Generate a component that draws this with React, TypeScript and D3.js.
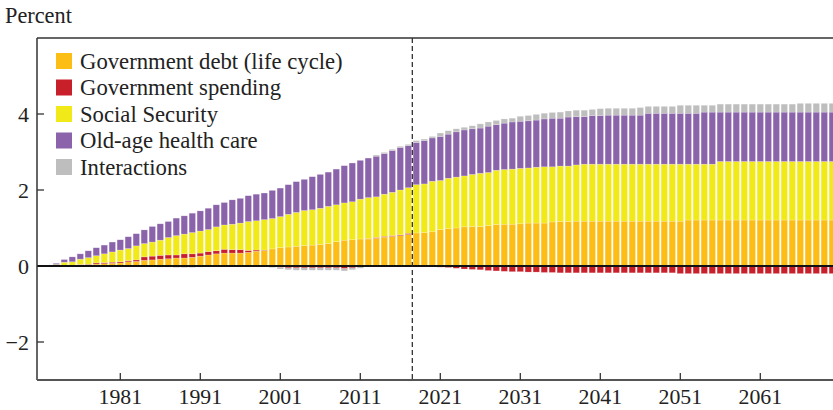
import React from "react";
import * as d3 from "d3";

// years shown as bars
const years = d3.range(1973, 2071);

// contributions (percentage points)
const govDebt = [
  0, 0, 0.01, 0.03, 0.04, 0.05, 0.06,
  0.07, 0.08, 0.11, 0.12, 0.15, 0.16, 0.18, 0.19, 0.21, 0.21,
  0.23, 0.26, 0.29, 0.32, 0.34, 0.34, 0.34, 0.36, 0.39, 0.41,
  0.45, 0.48, 0.5, 0.52, 0.54, 0.55, 0.57, 0.59, 0.64, 0.68,
  0.69, 0.71, 0.71, 0.73, 0.76, 0.78, 0.8, 0.83, 0.87, 0.88,
  0.9, 0.96, 0.98, 1.0, 1.03, 1.04, 1.04, 1.06, 1.09, 1.1,
  1.1, 1.11, 1.13, 1.13, 1.13, 1.16, 1.17, 1.17, 1.18, 1.18,
  1.18, 1.18, 1.18, 1.18, 1.18, 1.18, 1.18, 1.18, 1.18, 1.18,
  1.18, 1.18, 1.21, 1.21, 1.21, 1.21, 1.21, 1.21, 1.21, 1.21,
  1.21, 1.21, 1.21, 1.21, 1.21, 1.21, 1.21, 1.21, 1.21, 1.21,
  1.21,
];
const govSpending = [
  0, 0, 0, 0.01, 0.01, 0.03, 0.03,
  0.03, 0.03, 0.03, 0.04, 0.09, 0.1, 0.1, 0.1, 0.08, 0.11,
  0.09, 0.08, 0.09, 0.08, 0.1, 0.09, 0.09, 0.05, 0.03, 0.01,
  -0.02, -0.04, -0.05, -0.05, -0.05, -0.05, -0.05, -0.05, -0.05, -0.07,
  -0.05, -0.02, 0.01, 0.02, 0.02, 0.02, 0.02, 0.03, 0, -0.01,
  -0.02, -0.03, -0.04, -0.06, -0.08, -0.09, -0.1, -0.12, -0.13, -0.14,
  -0.15, -0.15, -0.16, -0.16, -0.17, -0.17, -0.18, -0.18, -0.18, -0.18,
  -0.18, -0.18, -0.18, -0.18, -0.18, -0.18, -0.18, -0.18, -0.18, -0.18,
  -0.18, -0.2, -0.2, -0.2, -0.2, -0.2, -0.2, -0.2, -0.2, -0.2,
  -0.2, -0.2, -0.2, -0.2, -0.2, -0.2, -0.2, -0.2, -0.2, -0.2,
  -0.2,
];
const socialSecurity = [
  0.04, 0.1, 0.1, 0.14, 0.17, 0.19, 0.23,
  0.27, 0.31, 0.32, 0.37, 0.35, 0.37, 0.4, 0.46, 0.51, 0.52,
  0.56, 0.58, 0.58, 0.63, 0.64, 0.67, 0.7, 0.76, 0.77, 0.8,
  0.8, 0.82, 0.86, 0.89, 0.92, 0.93, 0.95, 0.98, 0.97, 0.98,
  1.0, 1.05, 1.08, 1.07, 1.11, 1.14, 1.18, 1.2, 1.27, 1.28,
  1.33, 1.29, 1.33, 1.34, 1.34, 1.37, 1.4, 1.4, 1.43, 1.44,
  1.45, 1.46, 1.45, 1.47, 1.48, 1.45, 1.46, 1.46, 1.48, 1.5,
  1.5, 1.5, 1.5, 1.5, 1.5, 1.5, 1.5, 1.5, 1.5, 1.5,
  1.5, 1.5, 1.47, 1.47, 1.47, 1.47, 1.54, 1.54, 1.54, 1.54,
  1.54, 1.54, 1.54, 1.54, 1.54, 1.54, 1.54, 1.54, 1.54, 1.54,
  1.54,
];
const healthCare = [
  0.03, 0.07, 0.13, 0.14, 0.18, 0.21, 0.23,
  0.26, 0.27, 0.31, 0.32, 0.36, 0.41, 0.43, 0.42, 0.46, 0.48,
  0.51, 0.53, 0.56, 0.58, 0.59, 0.64, 0.65, 0.68, 0.7, 0.7,
  0.74, 0.75, 0.78, 0.81, 0.82, 0.87, 0.89, 0.9, 0.94, 0.98,
  1.02, 1.02, 1.04, 1.07, 1.07, 1.1, 1.12, 1.11, 1.11, 1.14,
  1.14, 1.16, 1.16, 1.19, 1.21, 1.2, 1.19, 1.22, 1.2, 1.22,
  1.24, 1.24, 1.24, 1.24, 1.26, 1.28, 1.26, 1.29, 1.27, 1.25,
  1.28, 1.28, 1.29, 1.29, 1.29, 1.29, 1.29, 1.34, 1.34, 1.34,
  1.34, 1.34, 1.34, 1.34, 1.37, 1.37, 1.3, 1.3, 1.3, 1.3,
  1.3, 1.3, 1.3, 1.3, 1.3, 1.3, 1.3, 1.3, 1.3, 1.3,
  1.3,
];
const interactions = [
  0, 0, 0, 0, 0, 0, 0,
  0, 0, 0, 0, 0, 0, -0.03, -0.03, -0.04, -0.04,
  -0.04, -0.03, -0.02, 0, 0, 0, 0, 0, 0, 0,
  -0.02, -0.04, -0.05, -0.06, -0.06, -0.06, -0.06, -0.06, -0.06, -0.06,
  -0.05, -0.04, -0.02, 0.03, 0.03, 0.03, 0.03, 0.03, 0.05, 0.04,
  0.04, 0.09, 0.09, 0.08, 0.07, 0.08, 0.11, 0.11, 0.11, 0.11,
  0.1, 0.13, 0.14, 0.15, 0.15, 0.15, 0.16, 0.16, 0.17, 0.17,
  0.16, 0.18, 0.18, 0.18, 0.18, 0.18, 0.2, 0.18, 0.18, 0.18,
  0.18, 0.21, 0.21, 0.21, 0.18, 0.18, 0.21, 0.21, 0.21, 0.21,
  0.21, 0.21, 0.21, 0.21, 0.21, 0.21, 0.23, 0.23, 0.23, 0.23,
  0.23,
];

const seriesKeys = ["debt", "spending", "ss", "health", "inter"];
const seriesLabels = [
  "Government debt (life cycle)",
  "Government spending",
  "Social Security",
  "Old-age health care",
  "Interactions",
];
const seriesColors = ["#FCBE14", "#C8202B", "#F2E919", "#8B63AB", "#BEBEBE"];

const xTicks = [1981, 1991, 2001, 2011, 2021, 2031, 2041, 2051, 2061];
const yTicks = [-2, 0, 2, 4];
const projectionStart = 2017.5;

const width = 833;
const height = 410;
const left = 37;
const top = 38;
const bottom = 380;
const font = "'Liberation Serif', 'Times New Roman', serif";

export default function App() {
  const rows = years.map((year, i) => ({
    year,
    debt: govDebt[i],
    spending: govSpending[i],
    ss: socialSecurity[i],
    health: healthCare[i],
    inter: interactions[i],
  }));

  const stacked = d3
    .stack<any>()
    .keys(seriesKeys)
    .offset(d3.stackOffsetDiverging)(rows);

  // 8px per year, 1981 at x=120
  const x = d3.scaleLinear().domain([1981, 2061]).range([120.3, 760.3]);
  const y = d3.scaleLinear().domain([-3, 6]).range([bottom, top]);
  const barW = 6.4;

  return (
    <svg
      width={width}
      height={height}
      style={{ position: "absolute", left: 0, top: 0, background: "white" }}
      fontFamily={font}
    >
      <defs>
        <clipPath id="plot">
          <rect x={left} y={top} width={width - left} height={bottom - top} />
        </clipPath>
      </defs>

      <text x={5} y={23} fontSize={22.3} fill="#222">
        Percent
      </text>

      <g clipPath="url(#plot)">
        {stacked.map((s, si) => (
          <g key={s.key} fill={seriesColors[si]}>
            {s.map((d, i) => {
              const y0 = y(d[0]);
              const y1 = y(d[1]);
              const h = Math.abs(y0 - y1);
              if (h < 0.05) return null;
              return (
                <rect
                  key={i}
                  x={x(years[i]) - barW / 2}
                  y={Math.min(y0, y1)}
                  width={barW}
                  height={h}
                  stroke="white"
                  strokeOpacity={0.4}
                  strokeWidth={0.5}
                />
              );
            })}
          </g>
        ))}
      </g>

      {/* zero line */}
      <line x1={left} x2={width} y1={y(0)} y2={y(0)} stroke="#111" strokeWidth={2} />

      {/* projection start */}
      <line
        x1={x(projectionStart)}
        x2={x(projectionStart)}
        y1={top}
        y2={bottom}
        stroke="#222"
        strokeWidth={1.2}
        strokeDasharray="5,3"
      />

      {/* frame */}
      <line x1={left} x2={width} y1={top} y2={top} stroke="#333" strokeWidth={1.5} />
      <line x1={left} x2={left} y1={top} y2={bottom} stroke="#333" strokeWidth={1.5} />
      <line x1={left} x2={width} y1={bottom} y2={bottom} stroke="#555" strokeWidth={1.8} />

      {/* y axis */}
      {yTicks.map((t) => (
        <g key={t}>
          {t !== 0 && (
            <line x1={left} x2={left + 7} y1={y(t)} y2={y(t)} stroke="#333" strokeWidth={1.3} />
          )}
          <text
            x={29}
            y={y(t) + 7.5}
            fontSize={22}
            textAnchor="end"
            fill="#222"
          >
            {t < 0 ? "\u2212" + Math.abs(t) : t}
          </text>
        </g>
      ))}

      {/* x axis */}
      {xTicks.map((t) => (
        <g key={t}>
          <line x1={x(t)} x2={x(t)} y1={bottom} y2={bottom - 7} stroke="#333" strokeWidth={1.3} />
          <text x={x(t)} y={404} fontSize={21.8} textAnchor="middle" fill="#222">
            {t}
          </text>
        </g>
      ))}

      {/* legend */}
      {seriesLabels.map((label, i) => {
        const cy = 61 + i * 26.5;
        return (
          <g key={label}>
            <rect x={56} y={cy - 8} width={16} height={16} fill={seriesColors[i]} />
            <text x={80} y={cy + 7.5} fontSize={22.7} fill="#222">
              {label}
            </text>
          </g>
        );
      })}
    </svg>
  );
}
